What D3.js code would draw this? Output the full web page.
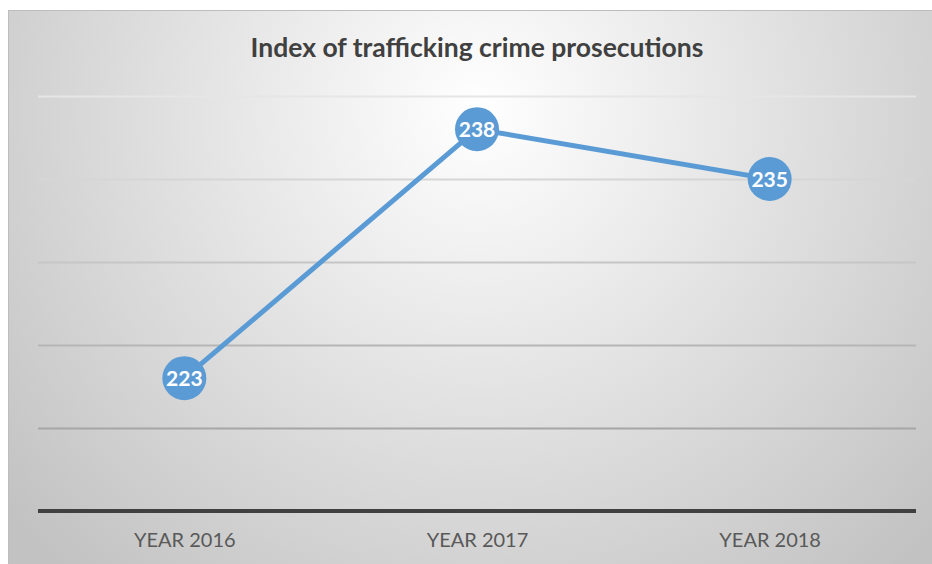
<!DOCTYPE html>
<html>
<head>
<meta charset="utf-8">
<script src="https://cdn.jsdelivr.net/npm/d3@7"></script>
<style>
  html, body { margin: 0; padding: 0; background: #ffffff; }
  svg { display: block; }
</style>
</head>
<body>
<svg id="chart" width="932" height="564"></svg>
<script>
// Chart data
const categories = ["YEAR 2016", "YEAR 2017", "YEAR 2018"];
const values = [223, 238, 235];
const yTicks = [215, 220, 225, 230, 235, 240];
const title = "Index of trafficking crime prosecutions";

const W = 932, H = 564;
const svg = d3.select("#chart");

// Background panel with radial shading
const defs = svg.append("defs");
const rg = defs.append("radialGradient")
  .attr("id", "bg")
  .attr("gradientUnits", "userSpaceOnUse")
  .attr("cx", 480).attr("cy", 110).attr("r", 620)
  .attr("fx", 480).attr("fy", 110);
rg.append("stop").attr("offset", "0%").attr("stop-color", "#ffffff");
rg.append("stop").attr("offset", "100%").attr("stop-color", "#c2c2c2");

svg.append("rect")
  .attr("x", 8.5).attr("y", 10.5)
  .attr("width", W - 8).attr("height", H - 10)
  .attr("fill", "url(#bg)")
  .attr("stroke", "#bdbdbd").attr("stroke-width", 1);

// Plot geometry
const plot = { left: 38, right: 916, top: 96, bottom: 511 };

const x = d3.scalePoint()
  .domain(categories)
  .range([plot.left, plot.right])
  .padding(0.5);

const y = d3.scaleLinear()
  .domain([215, 240])
  .range([plot.bottom, plot.top]);

// Horizontal gridlines (shade darkens toward the bottom of the panel)
const gridShade = d3.scaleLinear()
  .domain([plot.top, plot.bottom - 83])
  .range(["#e6e6e6", "#a6a6a6"]);

const yAxis = d3.axisLeft(y)
  .tickValues(yTicks.slice(1))
  .tickSize(-(plot.right - plot.left))
  .tickFormat("");

const gGrid = svg.append("g")
  .attr("transform", `translate(${plot.left},0)`)
  .call(yAxis);
gGrid.select(".domain").remove();
gGrid.selectAll(".tick line")
  .attr("stroke", d => gridShade(y(d)))
  .attr("stroke-width", 2);

// Category axis
const xAxis = d3.axisBottom(x).tickSize(0).tickPadding(22);
const gX = svg.append("g")
  .attr("transform", `translate(0,${plot.bottom})`)
  .call(xAxis);
gX.select(".domain").remove();
gX.append("line")
  .attr("x1", plot.left).attr("x2", plot.right)
  .attr("y1", 0).attr("y2", 0)
  .attr("stroke", "#404040").attr("stroke-width", 4);
gX.selectAll(".tick text")
  .attr("fill", "#595959")
  .attr("font-family", "Lato, 'Open Sans', sans-serif")
  .attr("font-size", 20);

// Series line
const line = d3.line()
  .x((d, i) => x(categories[i]))
  .y(d => y(d));

svg.append("path")
  .datum(values)
  .attr("d", line)
  .attr("fill", "none")
  .attr("stroke", "#5b9bd5")
  .attr("stroke-width", 5)
  .attr("stroke-linejoin", "round");

// Markers with value labels
const pts = svg.append("g").selectAll("g")
  .data(values)
  .join("g")
  .attr("transform", (d, i) => `translate(${x(categories[i])},${y(d)})`);

pts.append("circle")
  .attr("r", 22)
  .attr("fill", "#5b9bd5");

pts.append("text")
  .text(d => d)
  .attr("text-anchor", "middle")
  .attr("dy", "0.36em")
  .attr("fill", "#ffffff")
  .attr("font-family", "Lato, 'Open Sans', sans-serif")
  .attr("font-weight", "bold")
  .attr("font-size", 21);

// Title
svg.append("text")
  .attr("x", 477).attr("y", 57)
  .attr("text-anchor", "middle")
  .attr("fill", "#404040")
  .attr("font-family", "Lato, 'Open Sans', sans-serif")
  .attr("font-weight", "bold")
  .attr("font-size", 26.5)
  .text(title);
</script>
</body>
</html>
